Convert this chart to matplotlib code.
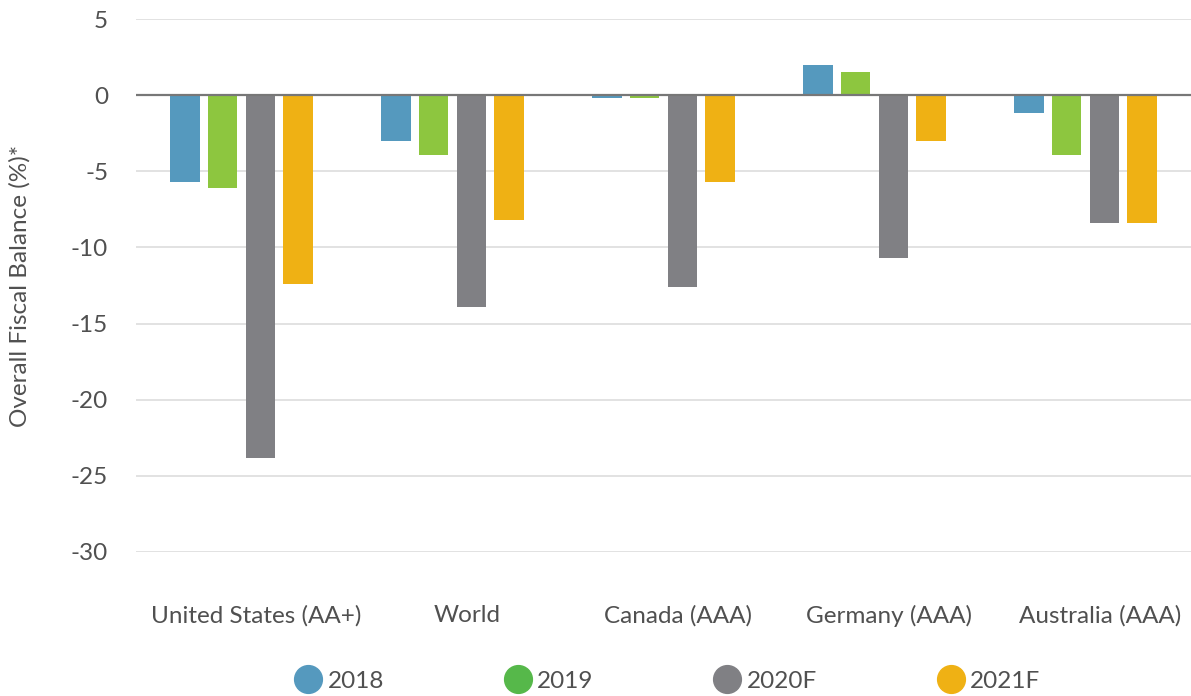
import matplotlib
matplotlib.use("Agg")
import matplotlib.pyplot as plt
from matplotlib.lines import Line2D
import numpy as np

categories = ["United States (AA+)", "World", "Canada (AAA)", "Germany (AAA)", "Australia (AAA)"]
series_names = ["2018", "2019", "2020F", "2021F"]
v2018 = [-5.7, -3.0, -0.2, 2.0, -1.2]
v2019 = [-6.1, -3.9, -0.2, 1.5, -3.9]
v2020 = [-23.8, -13.9, -12.6, -10.7, -8.4]
v2021 = [-12.4, -8.2, -5.7, -3.0, -8.4]
yticks = [5, 0, -5, -10, -15, -20, -25, -30]

bar_colors = ["#5599BE", "#8DC63F", "#808084", "#EFB114"]
legend_colors = ["#5599BE", "#56B84A", "#808084", "#EFB114"]

plt.rcParams['font.family'] = ['Lato', 'DejaVu Sans']
fig = plt.figure(figsize=(11.91, 6.96), dpi=100)
ax = fig.add_axes([136/1191, 1 - 552/696, 1 - 136/1191, (552 - 19)/696])

x = np.arange(len(categories))
width = 0.142
step = 0.18
for i, vals in enumerate([v2018, v2019, v2020, v2021]):
    ax.bar(x + (i - 1.5) * step, vals, width=width, color=bar_colors[i], zorder=3)

txt = '#505050'
fs = 17.5
ax.set_xlim(-0.5, 4.5)
ax.set_ylim(-30, 5)
ax.set_yticks(yticks)
ax.set_yticklabels([str(t) for t in yticks])
ax.grid(axis='y', color='#DDDDDD', linewidth=1.2, zorder=0)
ax.axhline(0, color='#777777', linewidth=1.6, zorder=4)
for s in ax.spines.values():
    s.set_visible(False)
ax.tick_params(axis='y', length=0, pad=20, labelsize=fs, labelcolor=txt)
ax.set_xticks(x + 0.07)
ax.set_xticklabels(categories)
ax.tick_params(axis='x', length=0, pad=38, labelsize=fs, labelcolor=txt)
ax.set_ylabel("Overall Fiscal Balance (%)*", fontsize=fs, color=txt)
ax.yaxis.set_label_coords(-0.10, 0.5)

handles = [Line2D([0], [0], marker='o', linestyle='', markersize=20,
                  markerfacecolor=c, markeredgecolor=c) for c in legend_colors]
fig.legend(handles, series_names, loc='center', bbox_to_anchor=(0.56, 1 - 681/696),
           ncol=4, frameon=False, fontsize=fs, labelcolor=txt,
           columnspacing=4.9, handletextpad=0.2, handlelength=1.2)

fig.savefig("out.png", dpi=100)
